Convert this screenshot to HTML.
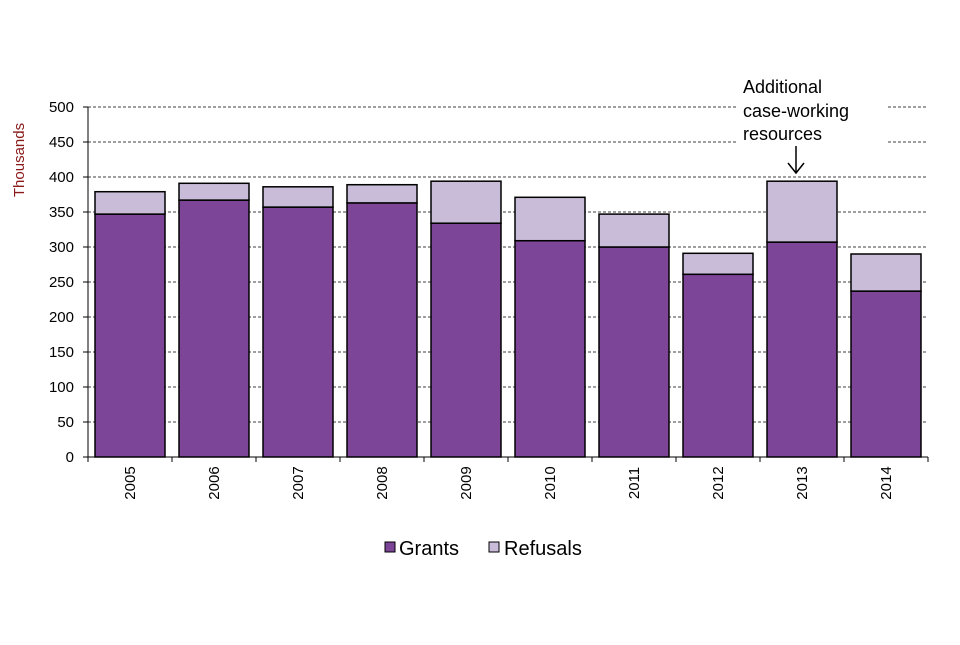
<!DOCTYPE html>
<html><head><meta charset="utf-8"><style>
body{margin:0;background:#fff;width:960px;height:640px;overflow:hidden;font-family:"Liberation Sans",Arial,sans-serif}
</style></head><body>
<svg id="chart" width="960" height="640" xmlns="http://www.w3.org/2000/svg" font-family="Liberation Sans, Arial, sans-serif"></svg>
<script>
const categories=["2005","2006","2007","2008","2009","2010","2011","2012","2013","2014"];
const grants=[347,367,357,363,334,309,300,261,307,237];
const refusals=[32,24,29,26,60,62,47,30,87,53];
const yTicks=[0,50,100,150,200,250,300,350,400,450,500];
const NS="http://www.w3.org/2000/svg";
const svg=document.getElementById("chart");
const x0=88,x1=928,yTop=107,yBot=457,yMax=500;
const band=(x1-x0)/categories.length;
const y=v=>yBot-(v/yMax)*(yBot-yTop);
const xc=i=>x0+band*(i+0.5);
function mk(t,a,p){const e=document.createElementNS(NS,t);for(const k in a)e.setAttribute(k,a[k]);(p||svg).appendChild(e);return e;}
yTicks.forEach(v=>{if(v>0){const g=mk("line",{x1:x0,x2:x1,y1:y(v),y2:y(v),stroke:"#000","stroke-width":0.8,"stroke-dasharray":"3,2"});

}
const t=mk("text",{x:x0-14,y:y(v)+5,"text-anchor":"end","font-size":15,fill:"#000"});t.textContent=v;


const tk=mk("line",{x1:x0-5,x2:x0,y1:y(v),y2:y(v),stroke:"#000"});


});
const m=mk("rect",{x:738,y:75,width:150,height:70,fill:"#fff"});


categories.forEach((c,i)=>{
const w=70,bx=xc(i)-w/2;
const g=mk("rect",{x:bx,y:y(grants[i]),width:w,height:yBot-y(grants[i]),fill:"#7d4597",stroke:"#000","stroke-width":1.5});


const r=mk("rect",{x:bx,y:y(grants[i]+refusals[i]),width:w,height:y(grants[i])-y(grants[i]+refusals[i]),fill:"#c8bcd8",stroke:"#000","stroke-width":1.5});


const tx=mk("text",{transform:`translate(${xc(i)+5},${483}) rotate(-90)`,"text-anchor":"middle","font-size":15,fill:"#000"});tx.textContent=c;


const tk=mk("line",{x1:x0+band*i,x2:x0+band*i,y1:yBot,y2:yBot+5,stroke:"#000"});


});
const tkl=mk("line",{x1:x1,x2:x1,y1:yBot,y2:yBot+5,stroke:"#000"});


const ya=mk("line",{x1:x0,x2:x0,y1:yTop,y2:yBot,stroke:"#000"});


const xa=mk("line",{x1:x0,x2:x1,y1:yBot,y2:yBot,stroke:"#000"});


const yt=mk("text",{transform:"translate(24,160) rotate(-90)","text-anchor":"middle","font-size":15,fill:"#8b1a1a"});yt.textContent="Thousands";


</script>
<svg style="position:absolute;left:0;top:0" width="960" height="640">
<g font-family="Liberation Sans, Arial, sans-serif" font-size="18" fill="#000">
<text x="743" y="93">Additional</text>
<text x="743" y="117">case-working</text>
<text x="743" y="140">resources</text>
<line x1="796" y1="146" x2="796" y2="172" stroke="#000" stroke-width="1.5"/>
<polyline points="788,163 796,173 804,163" fill="none" stroke="#000" stroke-width="1.5"/>
</g>
<g font-family="Liberation Sans, Arial, sans-serif" font-size="20">
<rect x="385" y="542" width="10" height="10" fill="#7d4597" stroke="#000"/>
<text x="399" y="555">Grants</text>
<rect x="489" y="542" width="10" height="10" fill="#c8bcd8" stroke="#000"/>
<text x="504" y="555">Refusals</text>
</g>
</svg>
</body></html>
